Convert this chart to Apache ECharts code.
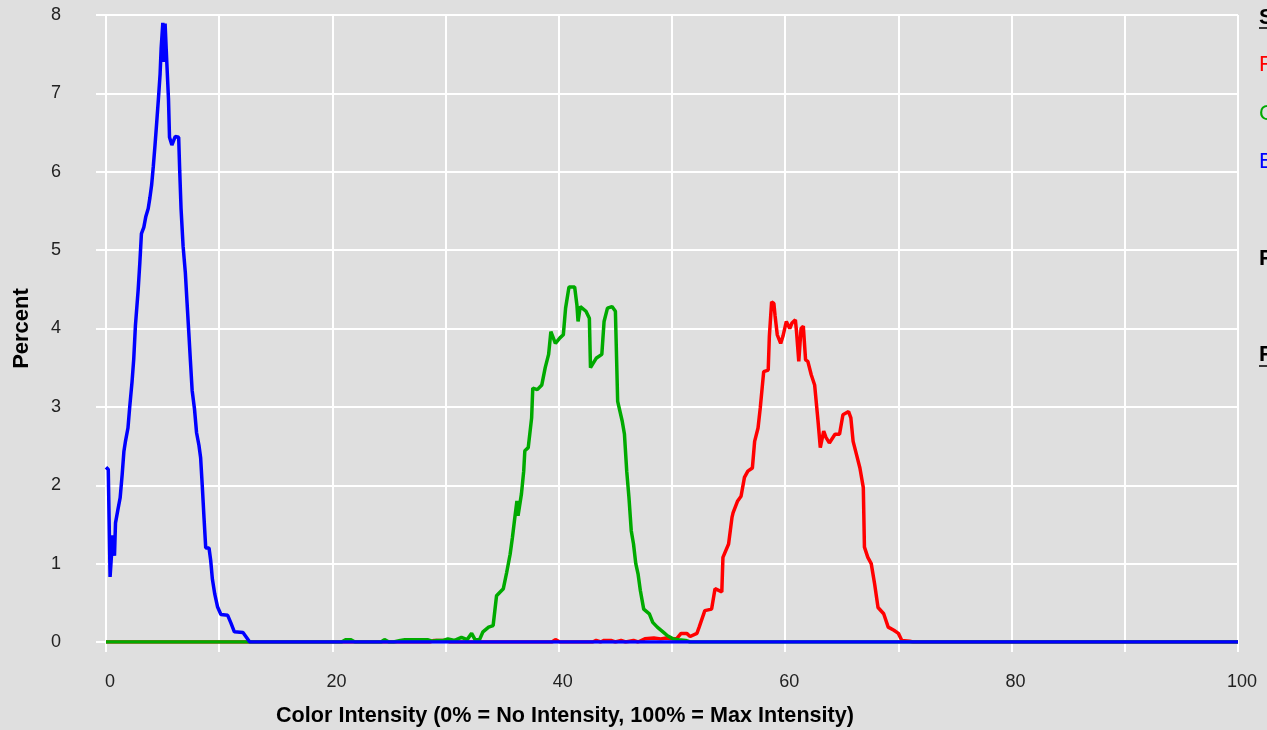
<!DOCTYPE html>
<html>
<head>
<meta charset="utf-8">
<script src="https://cdn.jsdelivr.net/npm/echarts@6/dist/echarts.min.js"></script>
<style>
html,body{margin:0;padding:0;background:#dfdfdf;}
#chart{width:1267px;height:730px;}
</style>
</head>
<body>
<div id="chart"></div>
<script>
// X-axis ticks (labels shown every 20)
const xTicks = [0, 10, 20, 30, 40, 50, 60, 70, 80, 90, 100];
const yTicks = [0, 1, 2, 3, 4, 5, 6, 7, 8];

const redX = [0, 28.6, 29.0, 30.0, 30.4, 39.4, 39.7, 40.1, 43.0, 43.3, 43.7, 44.0, 44.6, 45.0, 45.5, 45.9, 46.6, 47.0, 47.6, 48.4, 49.0, 49.5, 49.9, 50.4, 50.8, 51.3, 51.6, 52.2, 52.4, 52.9, 53.5, 53.8, 54.4, 54.5, 55.0, 55.3, 55.4, 55.8, 56.1, 56.4, 56.7, 57.1, 57.3, 57.6, 57.8, 58.1, 58.5, 58.6, 58.8, 59.0, 59.1, 59.3, 59.6, 59.8, 60.1, 60.4, 60.6, 60.9, 61.0, 61.2, 61.4, 61.6, 61.8, 62.0, 62.3, 62.6, 62.9, 63.1, 63.4, 63.6, 63.9, 64.4, 64.8, 65.1, 65.6, 65.8, 66.0, 66.3, 66.6, 66.9, 67.0, 67.3, 67.6, 67.9, 68.2, 68.7, 69.1, 69.6, 70.0, 70.3, 71.0, 71.3, 100];
const redY = [0, 0, 0.02, 0.02, 0, 0, 0.03, 0, 0, 0.02, 0, 0.02, 0.02, 0, 0.02, 0, 0.02, 0, 0.04, 0.05, 0.04, 0.05, 0.04, 0.04, 0.11, 0.11, 0.07, 0.11, 0.19, 0.4, 0.42, 0.68, 0.64, 1.08, 1.25, 1.59, 1.65, 1.8, 1.86, 2.1, 2.18, 2.22, 2.56, 2.73, 2.99, 3.45, 3.47, 3.9, 4.34, 4.32, 4.17, 3.92, 3.81, 3.9, 4.09, 4.0, 4.07, 4.11, 3.96, 3.58, 4.0, 4.03, 3.6, 3.58, 3.41, 3.28, 2.82, 2.48, 2.69, 2.61, 2.54, 2.65, 2.65, 2.9, 2.94, 2.86, 2.56, 2.39, 2.22, 1.97, 1.21, 1.08, 1.0, 0.74, 0.44, 0.36, 0.19, 0.15, 0.11, 0.02, 0.01, 0, 0];

const greenX = [0, 20.8, 21.2, 21.6, 22.0, 24.3, 24.6, 25.0, 25.4, 26.0, 26.4, 28.4, 28.8, 29.2, 29.8, 30.2, 30.8, 31.4, 31.9, 32.3, 32.6, 33.0, 33.3, 33.8, 34.2, 34.5, 35.1, 35.4, 35.7, 35.9, 36.1, 36.3, 36.4, 36.7, 36.9, 37.0, 37.3, 37.6, 37.7, 38.1, 38.5, 38.8, 39.1, 39.3, 39.7, 40.1, 40.4, 40.6, 40.9, 41.4, 41.6, 41.7, 41.9, 42.4, 42.7, 42.8, 43.3, 43.8, 44.0, 44.3, 44.7, 45.0, 45.2, 45.6, 45.8, 46.0, 46.2, 46.4, 46.6, 46.8, 47.0, 47.2, 47.5, 48.0, 48.3, 48.7, 49.2, 49.6, 50.1, 50.6, 51.2, 51.6, 100];
const greenY = [0, 0, 0.03, 0.03, 0, 0, 0.03, 0, 0, 0.02, 0.03, 0.03, 0.01, 0.02, 0.02, 0.04, 0.02, 0.06, 0.03, 0.11, 0.03, 0.03, 0.13, 0.19, 0.21, 0.59, 0.68, 0.89, 1.12, 1.33, 1.57, 1.8, 1.61, 1.89, 2.18, 2.44, 2.48, 2.86, 3.24, 3.22, 3.28, 3.5, 3.67, 3.96, 3.81, 3.88, 3.92, 4.26, 4.53, 4.53, 4.3, 4.09, 4.28, 4.22, 4.13, 3.5, 3.62, 3.67, 4.09, 4.26, 4.28, 4.22, 3.07, 2.82, 2.65, 2.18, 1.84, 1.42, 1.25, 1.0, 0.87, 0.66, 0.42, 0.36, 0.25, 0.19, 0.13, 0.08, 0.04, 0.03, 0.02, 0, 0];

const blueX = [0, 0.2, 0.28, 0.36, 0.45, 0.6, 0.75, 0.84, 1.04, 1.25, 1.43, 1.58, 1.73, 1.94, 2.09, 2.3, 2.45, 2.6, 2.84, 2.99, 3.13, 3.34, 3.52, 3.73, 3.88, 4.03, 4.18, 4.33, 4.48, 4.63, 4.78, 4.87, 5.02, 5.13, 5.22, 5.37, 5.52, 5.61, 5.82, 6.12, 6.42, 6.51, 6.63, 6.81, 7.01, 7.16, 7.31, 7.46, 7.61, 7.82, 8.0, 8.21, 8.36, 8.51, 8.66, 8.81, 9.1, 9.25, 9.4, 9.61, 9.85, 10.15, 10.75, 11.04, 11.34, 12.1, 12.7, 100];
const blueY = [2.23, 2.2, 1.52, 0.83, 0.85, 1.36, 1.1, 1.52, 1.68, 1.84, 2.14, 2.43, 2.57, 2.73, 2.99, 3.32, 3.61, 4.04, 4.49, 4.84, 5.21, 5.29, 5.43, 5.53, 5.67, 5.83, 6.07, 6.34, 6.63, 6.93, 7.25, 7.57, 7.9, 7.4, 7.89, 7.4, 6.93, 6.44, 6.34, 6.45, 6.44, 6.02, 5.53, 5.05, 4.71, 4.33, 3.96, 3.58, 3.21, 2.97, 2.67, 2.51, 2.35, 1.98, 1.58, 1.2, 1.2, 1.04, 0.8, 0.61, 0.45, 0.35, 0.34, 0.24, 0.13, 0.12, 0, 0];

const xTitle = 'Color Intensity (0% = No Intensity, 100% = Max Intensity)';
const yTitle = 'Percent';
const sideLabels = ['Series', 'Red', 'Green', 'Blue', 'Pixels', 'File'];
const sideColors = ['#000000', '#ff0000', '#00aa00', '#0000ff', '#000000', '#000000'];

function zip(xs, ys) {
  const n = Math.min(xs.length, ys.length);
  const out = [];
  for (let i = 0; i < n; i++) out.push([xs[i], ys[i]]);
  return out;
}

const chart = echarts.init(document.getElementById('chart'), null, {renderer: 'canvas'});
const FONT = '"Liberation Sans", Arial, sans-serif';

const sideY = [18, 65, 114, 162, 259, 355];
const sideBold = [true, false, false, false, true, true];
const graphics = [];
sideLabels.forEach((t, i) => {
  graphics.push({
    type: 'text', left: 1259, top: sideY[i] - 11, silent: true,
    style: { text: t, fill: sideColors[i], font: (sideBold[i] ? 'bold ' : '') + '22px ' + FONT }
  });
});
[28, 366].forEach(y => {
  graphics.push({ type: 'line', silent: true, shape: { x1: 1259, y1: y, x2: 1267, y2: y }, style: { stroke: '#000', lineWidth: 1.5 } });
});
graphics.push({
  type: 'text', left: 276, top: 705, silent: true,
  style: { text: xTitle, fill: '#000', font: 'bold 21.6px ' + FONT }
});

chart.setOption({
  backgroundColor: '#dfdfdf',
  animation: false,
  textStyle: { fontFamily: FONT },
  grid: { left: 106, right: 29, top: 15, bottom: 88 },
  xAxis: {
    type: 'value', min: xTicks[0], max: xTicks[xTicks.length - 1], interval: 10,
    axisLine: { show: true, lineStyle: { color: '#ffffff', width: 2 } },
    axisTick: { show: true, length: 10, lineStyle: { color: '#ffffff', width: 2 } },
    splitLine: { show: true, lineStyle: { color: '#ffffff', width: 2 } },
    axisLabel: { margin: 31, color: '#222', fontSize: 18, fontFamily: FONT, padding: [0, 0, 0, 8],
      formatter: v => (v % 20 === 0 ? String(v) : '') }
  },
  yAxis: {
    type: 'value', min: yTicks[0], max: yTicks[yTicks.length - 1], interval: 1,
    name: yTitle, nameLocation: 'middle', nameGap: 73,
    nameTextStyle: { color: '#000', fontWeight: 'bold', fontSize: 22, fontFamily: FONT },
    axisLine: { show: true, lineStyle: { color: '#ffffff', width: 2 } },
    axisTick: { show: true, length: 10, lineStyle: { color: '#ffffff', width: 2 } },
    splitLine: { show: true, lineStyle: { color: '#ffffff', width: 2 } },
    axisLabel: { margin: 45, color: '#222', fontSize: 18, fontFamily: FONT }
  },
  series: [
    { name: 'Red', type: 'line', data: zip(redX, redY), showSymbol: false, symbol: 'none',
      lineStyle: { color: '#ff0000', width: 3.5 }, itemStyle: { color: '#ff0000' } },
    { name: 'Green', type: 'line', data: zip(greenX, greenY), showSymbol: false, symbol: 'none',
      lineStyle: { color: '#00aa00', width: 3.5 }, itemStyle: { color: '#00aa00' } },
    { name: 'Blue', type: 'line', data: zip(blueX, blueY), showSymbol: false, symbol: 'none',
      lineStyle: { color: '#0000ff', width: 3.5 }, itemStyle: { color: '#0000ff' } }
  ],
  graphic: graphics
});
</script>
</body>
</html>
